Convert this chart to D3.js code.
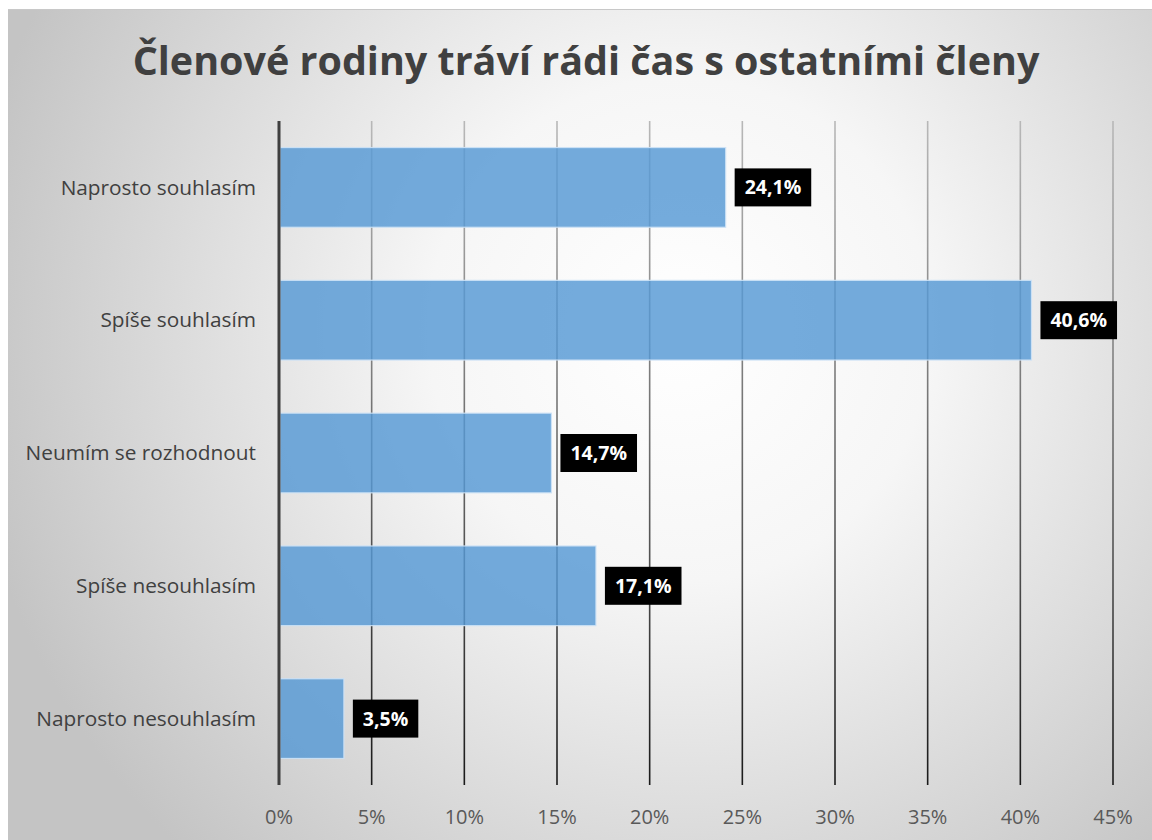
<!DOCTYPE html>
<html><head><meta charset="utf-8">
<script src="https://cdn.jsdelivr.net/npm/d3@7"></script>
<style>html,body{margin:0;padding:0;background:#fff;} svg{display:block;}</style>
</head><body>
<svg id="chart" width="1152" height="840"></svg>
<script>
const title = "Členové rodiny tráví rádi čas s ostatními členy";
const categories = ["Naprosto souhlasím","Spíše souhlasím","Neumím se rozhodnout","Spíše nesouhlasím","Naprosto nesouhlasím"];
const values = [24.1, 40.6, 14.7, 17.1, 3.5];
const valueLabels = ["24,1%","40,6%","14,7%","17,1%","3,5%"];
const ticks = [0,5,10,15,20,25,30,35,40,45];
const tickLabels = ["0%","5%","10%","15%","20%","25%","30%","35%","40%","45%"];

const svg = d3.select("#chart");
const W = 1152, H = 840;
const defs = svg.append("defs");
const rg = defs.append("radialGradient").attr("id","bg").attr("gradientUnits","userSpaceOnUse")
  .attr("cx",680).attr("cy",330).attr("r",720);
rg.append("stop").attr("offset","0%").attr("stop-color","#ffffff");
rg.append("stop").attr("offset","35%").attr("stop-color","#f6f6f6");
rg.append("stop").attr("offset","100%").attr("stop-color","#c4c4c4");

const plotTop = 121, plotBottom = 785;
const gg = defs.append("linearGradient").attr("id","grid").attr("gradientUnits","userSpaceOnUse")
  .attr("x1",0).attr("y1",plotTop).attr("x2",0).attr("y2",plotBottom);
gg.append("stop").attr("offset","0%").attr("stop-color","#b8b8b8");
gg.append("stop").attr("offset","50%").attr("stop-color","#6a6a6a");
gg.append("stop").attr("offset","100%").attr("stop-color","#1a1a1a");

svg.append("rect").attr("x",8).attr("y",9).attr("width",W-8).attr("height",H-9).attr("fill","url(#bg)");
svg.append("line").attr("x1",8).attr("x2",W).attr("y1",9.5).attr("y2",9.5).attr("stroke","#c8c8c8").attr("stroke-width",1);

const x = d3.scaleLinear().domain([0,45]).range([279,1113]);
const y = d3.scaleBand().domain(categories).range([plotTop,plotBottom]).paddingInner(0.4).paddingOuter(0.2);

// gridlines
svg.append("g").selectAll("line").data(ticks.slice(1)).join("line")
  .attr("x1",d=>x(d)).attr("x2",d=>x(d)).attr("y1",plotTop).attr("y2",plotBottom)
  .attr("stroke","url(#grid)").attr("stroke-width",1.6);

// bars
svg.append("g").selectAll("rect").data(values).join("rect")
  .attr("x",x(0)+1).attr("y",(d,i)=>y(categories[i]))
  .attr("width",d=>x(d)-x(0)-1).attr("height",y.bandwidth())
  .attr("fill","rgba(86,152,212,0.82)").attr("stroke","rgba(205,226,246,0.9)").attr("stroke-width",1.2);

// y axis line
svg.append("line").attr("x1",x(0)).attr("x2",x(0)).attr("y1",plotTop).attr("y2",plotBottom)
  .attr("stroke","#3f3f3f").attr("stroke-width",3);

// category labels
svg.append("g").selectAll("text").data(categories).join("text")
  .attr("x",256).attr("y",d=>y(d)+y.bandwidth()/2).attr("dy","0.35em")
  .attr("text-anchor","end").attr("font-family","'Open Sans', sans-serif").attr("font-size",20.8)
  .attr("fill","#404040").text(d=>d);

// tick labels
svg.append("g").selectAll("text").data(ticks).join("text")
  .attr("x",d=>x(d)).attr("y",817).attr("dy","0.35em")
  .attr("text-anchor","middle").attr("font-family","'Open Sans', sans-serif").attr("font-size",20)
  .attr("fill","#595959").text((d,i)=>tickLabels[i]);

// value labels
const lg = svg.append("g");
values.forEach((v,i)=>{
  const cy = y(categories[i]) + y.bandwidth()/2;
  const t = lg.append("text").attr("x",0).attr("y",cy).attr("dy","0.36em")
    .attr("font-family","'Open Sans', sans-serif").attr("font-weight","bold").attr("font-size",19.5)
    .attr("fill","#ffffff").text(valueLabels[i]);
  const w = t.node().getComputedTextLength();
  const bx = x(v) + 9, padX = 10, bw = w + 2*padX, bh = 38;
  lg.insert("rect","text").attr("x",bx).attr("y",cy-bh/2).attr("width",bw).attr("height",bh).attr("fill","#000");
  t.attr("x",bx+padX);
});

// title
const tt = svg.append("text").attr("x",586).attr("y",75).attr("text-anchor","middle")
  .attr("font-family","'Open Sans', sans-serif").attr("font-weight","bold").attr("font-size",40)
  .attr("fill","#404040").text(title);
const tw = tt.node().getComputedTextLength();
tt.attr("font-size", 40*907/tw);
</script>
</body></html>
